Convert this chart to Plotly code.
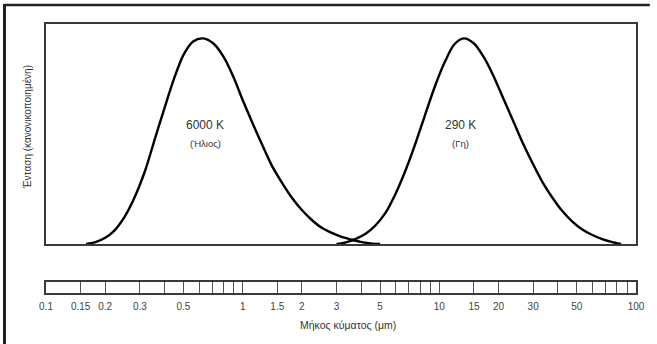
import plotly.graph_objects as go

# Sun (6000 K) curve, wavelength in μm and normalized intensity
sun_wl = [0.16, 0.18, 0.2, 0.22, 0.25, 0.28, 0.32, 0.36, 0.4, 0.45, 0.5, 0.56, 0.63, 0.71, 0.8, 0.9, 1.0,
          1.12, 1.26, 1.41, 1.58, 1.78, 2.0, 2.24, 2.51, 2.82, 3.16, 3.55, 3.98, 4.47, 5.0]
sun_val = [0.0, 0.01, 0.03, 0.06, 0.13, 0.22, 0.36, 0.52, 0.66, 0.81, 0.92, 0.985, 1.0, 0.975, 0.91, 0.81, 0.70,
           0.59, 0.48, 0.38, 0.30, 0.225, 0.165, 0.118, 0.08, 0.055, 0.036, 0.022, 0.01, 0.003, 0.0]

# Earth (290 K) curve
earth_wl = [3.0, 3.35, 3.76, 4.22, 4.73, 5.31, 5.96, 6.68, 7.5, 8.41, 9.44, 10.6, 11.9, 13.3, 15.0, 16.8,
            18.8, 21.1, 23.7, 26.6, 29.9, 33.5, 37.6, 42.2, 47.3, 53.1, 59.6, 66.8, 75, 84]
earth_val = [0.0, 0.008, 0.025, 0.05, 0.09, 0.15, 0.24, 0.35, 0.48, 0.62, 0.76, 0.88, 0.97, 1.0, 0.975, 0.91,
             0.82, 0.71, 0.60, 0.49, 0.39, 0.30, 0.225, 0.16, 0.11, 0.072, 0.045, 0.025, 0.01, 0.0]

# Scale bar ticks and labels
scale_ticks = [0.1, 0.15, 0.2, 0.3, 0.4, 0.5, 0.6, 0.7, 0.8, 0.9, 1, 1.5, 2, 3, 4, 5, 6, 7, 8, 9, 10,
               15, 20, 30, 40, 50, 60, 70, 80, 90, 100]
scale_labels = {0.1: "0.1", 0.15: "0.15", 0.2: "0.2", 0.3: "0.3", 0.5: "0.5", 1: "1", 1.5: "1.5", 2: "2",
                3: "3", 5: "5", 10: "10", 15: "15", 20: "20", 30: "30", 50: "50", 100: "100"}

W, H = 657, 344
L, R, T, B = 46, 643, 24, 293
plot_bottom = 244
bar_top = 282

fig = go.Figure()
fig.add_trace(go.Scatter(x=sun_wl, y=sun_val, mode="lines", line=dict(color="black", width=2.4, shape="spline", smoothing=0.8),
                         xaxis="x", yaxis="y", showlegend=False, hoverinfo="skip"))
fig.add_trace(go.Scatter(x=earth_wl, y=earth_val, mode="lines", line=dict(color="black", width=2.4, shape="spline", smoothing=0.8),
                         xaxis="x", yaxis="y", showlegend=False, hoverinfo="skip"))
# invisible trace for the scale bar axis
fig.add_trace(go.Scatter(x=[0.1, 100], y=[0, 0], mode="markers", marker=dict(opacity=0),
                         xaxis="x2", yaxis="y2", showlegend=False, hoverinfo="skip"))

ph = B - T
font = "Liberation Sans, Arial, sans-serif"
fig.update_layout(
    width=W, height=H,
    margin=dict(l=L, r=W - R, t=T, b=H - B),
    paper_bgcolor="white", plot_bgcolor="white",
    xaxis=dict(type="log", range=[-1, 2], showticklabels=False, ticks="", showgrid=False, zeroline=False,
               showline=True, mirror=True, linecolor="#3a3a3a", linewidth=1.5, anchor="y"),
    yaxis=dict(range=[0, 1.07], domain=[(B - plot_bottom) / ph, 1], showticklabels=False, ticks="",
               showgrid=False, zeroline=False, showline=True, mirror=True, linecolor="#3a3a3a", linewidth=1.5),
    xaxis2=dict(type="log", range=[-1, 2], anchor="y2", tickmode="array", tickvals=scale_ticks,
                ticktext=[scale_labels.get(t, "") for t in scale_ticks], ticks="", showgrid=True,
                gridcolor="#555", gridwidth=1, zeroline=False, showline=True, mirror=True,
                linecolor="#3a3a3a", linewidth=1.5, ticklabelstandoff=3,
                tickfont=dict(family=font, size=10, color="#444")),
    yaxis2=dict(range=[0, 1], domain=[0, (B - bar_top) / ph], showticklabels=False, ticks="", showgrid=False,
                zeroline=False, showline=True, mirror=True, linecolor="#3a3a3a", linewidth=1.5),
)

def px_x(x):
    return (x - L) / (R - L)

def px_y(y):
    return (B - y) / (B - T)

ann = [
    dict(text="6000 K", x=px_x(207), y=px_y(125), size=12),
    dict(text="(Ήλιος)", x=px_x(207), y=px_y(143), size=9.5),
    dict(text="290 K", x=px_x(465), y=px_y(125), size=12),
    dict(text="(Γη)", x=px_x(465), y=px_y(143), size=9.5),
    dict(text="Μήκος κύματος (μm)", x=px_x(352), y=px_y(325), size=10.5),
]
for a in ann:
    fig.add_annotation(text=a["text"], x=a["x"], y=a["y"], xref="paper", yref="paper", showarrow=False,
                       font=dict(family=font, size=a["size"], color="#333"), xanchor="center", yanchor="middle")
fig.add_annotation(text="Ένταση (κανονικοποιημένη)", x=px_x(27), y=px_y(127), xref="paper", yref="paper",
                   showarrow=False, textangle=-90, font=dict(family=font, size=10, color="#333"),
                   xanchor="center", yanchor="middle")

# outer border lines (top and left)
fig.add_shape(type="line", xref="paper", yref="paper", x0=px_x(4), x1=px_x(657), y0=px_y(5), y1=px_y(5),
              line=dict(color="#222", width=2.5))
fig.add_shape(type="line", xref="paper", yref="paper", x0=px_x(4), x1=px_x(4), y0=px_y(4), y1=px_y(344),
              line=dict(color="#222", width=3))

fig.write_html("out.html")
